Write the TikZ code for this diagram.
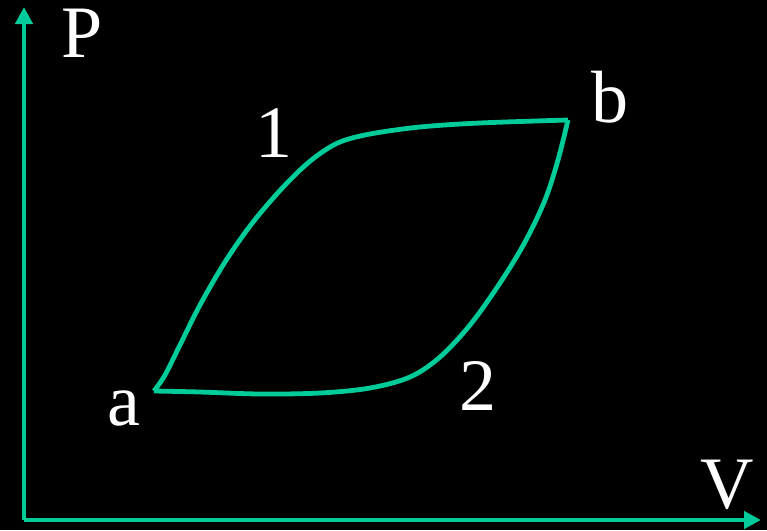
\documentclass[tikz,border=0pt]{standalone}
\usepackage{fontspec}
\setmainfont{Liberation Serif}
\usetikzlibrary{arrows.meta}
\definecolor{curvegreen}{RGB}{0,204,153}
\tikzset{
  axis/.style={draw=curvegreen, line width=4.5pt, -{Triangle[length=17pt,width=17pt]}},
  cycle/.style={draw=curvegreen, line width=4.8pt, line join=round},
  lbl/.style={text=white, anchor=base, inner sep=0pt, font=\fontsize{74}{80}\selectfont}
}
\begin{document}
\begin{tikzpicture}[x=1pt,y=-1pt]
\fill[black] (0,0) rectangle (767,530);
\useasboundingbox (0,0) rectangle (767,530);
\coordinate (O) at (24,520);
\coordinate (Ptip) at (24,7);
\coordinate (Vtip) at (761,520);
\draw[axis] (O) -- (Ptip);
\draw[axis] (O) -- (Vtip);
\coordinate (a) at (154,391);
\coordinate (b) at (568,120);
\draw[cycle] plot[smooth, tension=0.55] coordinates {(154,391) (200,392) (260,394) (320,393) (370,388) (410,377) (440,357) (470,325) (500,283) (525,242) (545,200) (558,160) (568,120)};
\draw[cycle] plot[smooth, tension=0.55] coordinates {(568,120) (480,123) (420,127) (370,134) (340,142) (318,155) (298,172) (275,196) (250,226) (225,262) (200,305) (180,345) (165,375) (154,391)};
\node[lbl] (P) at (82,57) {P};
\node[lbl] (V) at (727,508) {V};
\node[lbl] (la) at (124,425) {a};
\node[lbl] (lb) at (610,122) {b};
\node[lbl] (l1) at (274,157) {1};
\node[lbl] (l2) at (478,410) {2};
\end{tikzpicture}
\end{document}
